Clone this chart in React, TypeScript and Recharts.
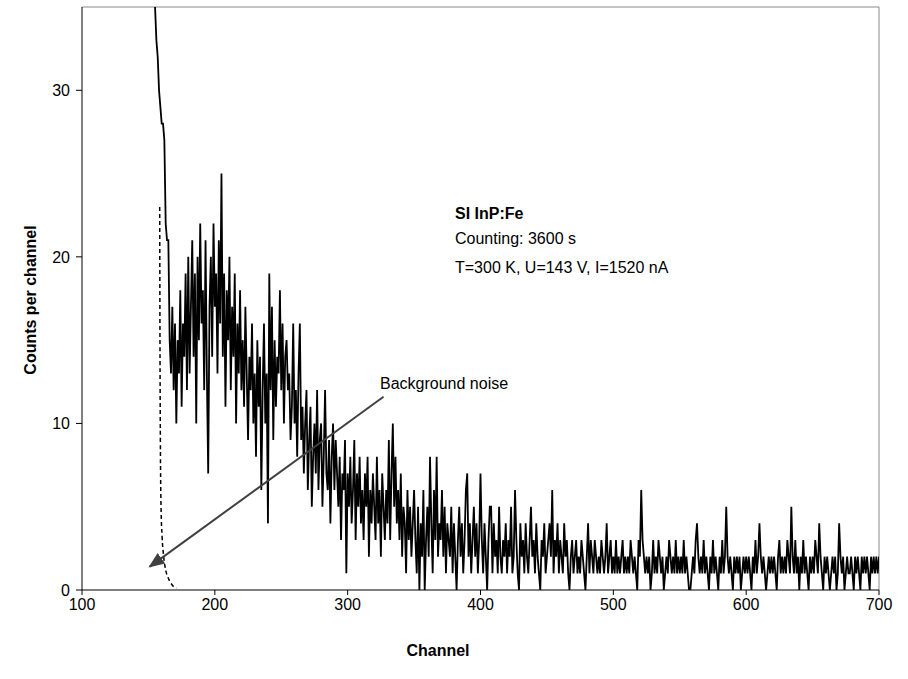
import { LineChart, Line, XAxis, YAxis, ReferenceLine } from 'recharts';

// channel of the first value in `counts`
const countsStart = 150;

// counts per channel, one value per channel from 150 to 700
const counts = [
  60, 55, 50, 45, 40, 35, 33, 32, 30, 29,
  28, 28, 27, 22, 21, 21, 15, 13, 17, 12,
  16, 10, 15, 13, 18, 11, 16, 14, 19, 12,
  20, 13, 17, 21, 14, 19, 10, 20, 15, 22,
  16, 18, 12, 21, 13, 7, 17, 20, 14, 22,
  17, 19, 13, 21, 16, 25, 14, 19, 11, 18,
  15, 20, 12, 17, 14, 19, 10, 16, 13, 18,
  12, 15, 11, 17, 13, 9, 14, 12, 16, 10,
  13, 8, 15, 11, 14, 6, 12, 16, 10, 13,
  4, 19, 12, 17, 9, 15, 11, 14, 13, 18,
  12, 16, 10, 14, 15, 12, 13, 9, 11, 16,
  10, 12, 8, 13, 16, 9, 11, 7, 10, 12,
  6, 9, 11, 5, 8, 10, 7, 12, 6, 9,
  10, 5, 8, 12, 7, 6, 9, 4, 8, 10,
  6, 9, 7, 5, 8, 3, 7, 6, 9, 1,
  7, 5, 8, 4, 6, 9, 3, 7, 5, 8,
  4, 6, 3, 7, 5, 8, 2, 6, 4, 7,
  5, 3, 8, 4, 6, 2, 7, 5, 3, 6,
  4, 9, 3, 7, 10, 5, 8, 4, 6, 3,
  7, 2, 5, 4, 1, 6, 3, 5, 2, 4,
  6, 3, 1, 5, 0, 4, 2, 6, 0, 3,
  5, 2, 8, 4, 1, 6, 3, 8, 2, 4,
  3, 6, 2, 5, 1, 4, 3, 2, 5, 1,
  4, 2, 0, 3, 5, 2, 4, 1, 3, 6,
  7, 2, 4, 1, 3, 5, 2, 4, 1, 3,
  7, 3, 1, 4, 2, 0, 3, 5, 5, 1,
  4, 2, 3, 1, 5, 2, 1, 3, 2, 4,
  1, 3, 2, 5, 1, 2, 6, 3, 1, 0,
  4, 2, 3, 1, 4, 2, 1, 3, 5, 2,
  3, 1, 4, 2, 1, 0, 3, 2, 4, 1,
  2, 3, 4, 2, 6, 1, 3, 2, 4, 1,
  3, 2, 1, 4, 2, 3, 1, 0, 2, 3,
  1, 2, 3, 1, 2, 1, 3, 2, 1, 0,
  2, 4, 1, 3, 2, 1, 3, 2, 1, 2,
  1, 3, 2, 1, 2, 4, 1, 2, 3, 1,
  2, 1, 3, 1, 2, 1, 2, 3, 1, 2,
  1, 2, 1, 3, 2, 1, 2, 1, 0, 3,
  2, 6, 3, 2, 1, 2, 1, 2, 0, 1,
  3, 1, 2, 1, 3, 2, 1, 2, 0, 1,
  2, 1, 3, 2, 1, 2, 1, 3, 1, 2,
  1, 2, 1, 3, 1, 2, 1, 0, 0, 1,
  2, 1, 3, 4, 2, 1, 2, 1, 3, 1,
  2, 1, 0, 2, 1, 3, 1, 2, 1, 0,
  2, 1, 3, 1, 2, 5, 2, 1, 2, 1,
  0, 2, 1, 2, 1, 2, 0, 1, 2, 1,
  2, 1, 2, 1, 0, 2, 1, 3, 1, 2,
  4, 2, 1, 2, 1, 0, 1, 2, 1, 2,
  1, 2, 1, 0, 2, 3, 1, 2, 1, 2,
  1, 3, 2, 1, 5, 2, 1, 3, 1, 2,
  0, 2, 1, 3, 1, 2, 1, 0, 2, 1,
  2, 1, 3, 2, 1, 4, 2, 1, 0, 2,
  1, 2, 1, 0, 1, 2, 1, 2, 0, 1,
  4, 2, 1, 2, 0, 1, 2, 1, 1, 2,
  1, 0, 2, 1, 2, 1, 0, 2, 1, 2,
  1, 2, 1, 0, 2, 1, 2, 1, 2, 1,
  2,
];

// background noise curve (dashed)
const bgChannels = [158.5, 158.7, 159, 159.5, 160.3, 161.5, 163, 165, 167, 169, 171];
const bgCounts = [23, 15, 9, 5, 3.2, 2.0, 1.2, 0.7, 0.4, 0.2, 0.1];

const xTicks = [100, 200, 300, 400, 500, 600, 700];
const yTicks = [0, 10, 20, 30];

const font = 'Liberation Sans, Arial, sans-serif';

const spectrum = counts.map((v, i) => ({ ch: countsStart + i, v }));
const background = bgChannels.map((ch, i) => ({ ch, v: bgCounts[i] }));

export default function App() {
  return (
    <div style={{ position: 'absolute', left: 0, top: 0, width: 908, height: 679, background: '#fff', fontFamily: font }}>
      <svg width={0} height={0} style={{ position: 'absolute' }}>
        <defs>
          <marker id="arrowHead" viewBox="0 0 10 10" refX="9" refY="5" markerWidth="8" markerHeight="8" orient="auto">
            <path d="M0,1 L10,5 L0,9 z" fill="#404040" />
          </marker>
        </defs>
      </svg>
      <LineChart width={908} height={679} margin={{ top: 7, right: 29, bottom: 19, left: 0 }}>
        <XAxis
          type="number"
          dataKey="ch"
          domain={[100, 700]}
          ticks={xTicks}
          allowDataOverflow
          height={70}
          tickSize={5}
          tickMargin={4}
          stroke="#000"
          tick={{ fill: '#000', fontSize: 16, fontFamily: font }}
        />
        <YAxis
          type="number"
          domain={[0, 35]}
          ticks={yTicks}
          allowDataOverflow
          width={82}
          tickSize={6}
          tickMargin={6}
          stroke="#000"
          tick={{ fill: '#000', fontSize: 16, fontFamily: font }}
        />
        <ReferenceLine y={35} stroke="#8a8a8a" />
        <ReferenceLine x={700} stroke="#8a8a8a" />
        <Line
          data={spectrum}
          dataKey="v"
          stroke="#000"
          strokeWidth={1.8}
          dot={false}
          isAnimationActive={false}
        />
        <Line
          data={background}
          dataKey="v"
          stroke="#000"
          strokeWidth={1.5}
          strokeDasharray="4 3"
          type="monotone"
          dot={false}
          isAnimationActive={false}
        />
        <ReferenceLine
          segment={[{ x: 327, y: 11.6 }, { x: 151, y: 1.4 }]}
          stroke="#404040"
          strokeWidth={2}
          markerEnd="url(#arrowHead)"
          ifOverflow="visible"
        />
      </LineChart>
      <svg width={908} height={679} style={{ position: 'absolute', left: 0, top: 0, pointerEvents: 'none' }} fontFamily={font} fontSize={16}>
        <text x={455} y={219} fontWeight="bold">SI InP:Fe</text>
        <text x={455} y={244}>Counting: 3600 s</text>
        <text x={455} y={273}>T=300 K, U=143 V, I=1520 nA</text>
        <text x={380} y={389}>Background noise</text>
        <text x={438} y={656} fontWeight="bold" textAnchor="middle">Channel</text>
        <text x={36} y={300} fontWeight="bold" textAnchor="middle" transform="rotate(-90 36 300)">Counts per channel</text>
      </svg>
    </div>
  );
}
